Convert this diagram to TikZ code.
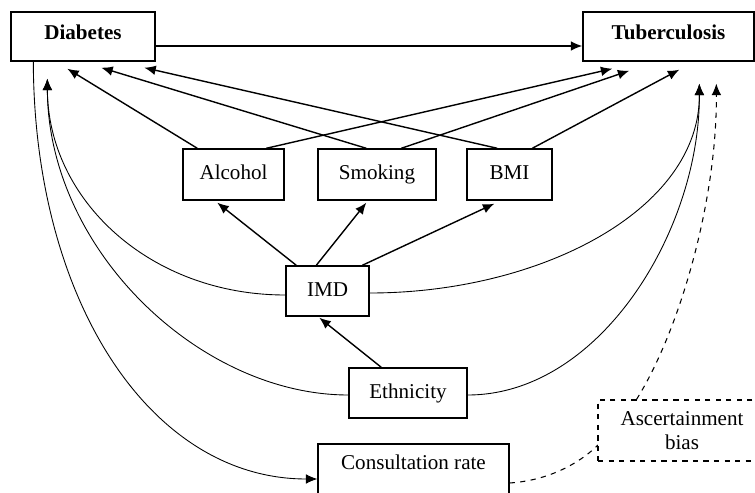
\documentclass[tikz,border=0pt]{standalone}
\usepackage{fontspec}
\setmainfont{Liberation Serif}
\usetikzlibrary{arrows.meta,calc}

\begin{document}
\begin{tikzpicture}[->,>={Latex[length=6.5pt,width=5.5pt]},x=0.02cm,y=-0.02cm,
                    line width=0.8pt]
  \tikzstyle{factor}=[draw,rectangle,inner sep=0pt,minimum height=1.02cm,
                      text height=8.5pt,text depth=2.5pt,
                      font=\fontsize{12}{14}\selectfont,fill=white]
  \tikzstyle{outcome}=[factor,minimum height=0.98cm,
                       font=\fontsize{12}{14}\selectfont\bfseries]
  \tikzstyle{path link}=[line width=0.5pt]
  \tikzstyle{bias link}=[line width=0.6pt,dashed]

  \clip (0,0) rectangle (755,493);

  \node[outcome] (diab) at (83,36.5)    [minimum width=2.88cm,text depth=5pt] {Diabetes};
  \node[outcome] (tb)   at (668.5,36.5) [minimum width=3.42cm,text depth=5pt] {Tuberculosis};
  \node[factor]  (alc)  at (233.5,174.5) [minimum width=2.02cm] {Alcohol};
  \node[factor]  (smk)  at (377,174.5)   [minimum width=2.36cm] {Smoking};
  \node[factor]  (bmi)  at (509.5,174.5) [minimum width=1.70cm] {BMI};
  \node[factor]  (imd)  at (327.5,291)   [minimum width=1.66cm,minimum height=1cm] {IMD};
  \node[factor]  (eth)  at (408,393)     [minimum width=2.36cm,minimum height=1cm] {Ethnicity};

  % exposure -> outcome
  \path ($(diab.east)+(0,9.5)$) edge ($(tb.west)+(0,9.5)$);

  % lifestyle factors
  \path ($(alc.north west)+(15,0)$) edge ($(diab.south west)+(57,7)$)
        ($(alc.north west)+(84,0)$) edge ($(tb.south west)+(30,7)$)
        ($(smk.north west)+(49,0)$) edge ($(diab.south west)+(91,6)$)
        ($(smk.north west)+(84,0)$) edge ($(tb.south west)+(47,9)$)
        ($(bmi.north west)+(31,0)$) edge ($(diab.south west)+(134,6)$)
        ($(bmi.north west)+(66,0)$) edge ($(tb.south west)+(97,8)$);

  % deprivation and ethnicity
  \path ($(imd.north west)+(11,0)$) edge ($(alc.south west)+(35,2)$)
        ($(imd.north west)+(31,0)$) edge ($(smk.south west)+(49,2)$)
        ($(imd.north west)+(77,0)$) edge ($(bmi.south west)+(28,3)$)
        ($(eth.north west)+(33,0)$) edge ($(imd.south west)+(34,1)$);

  \draw[path link] ($(imd.west)+(0,4)$) .. controls (150,295) and (48,200)
        .. ($(diab.south west)+(37,17)$);
  \draw[path link] ($(eth.west)+(0,2)$) .. controls (200,395) and (48,250)
        .. ($(diab.south west)+(37,17)$);
  \draw[path link] ($(imd.east)+(0,2)$) .. controls (540,293) and (700,210)
        .. ($(tb.south west)+(117,22)$);
  \draw[path link] ($(eth.east)+(0,2)$) .. controls (600,395) and (700,230)
        .. ($(tb.south west)+(117,22)$);

  % consultation rate and ascertainment
  \node[factor]  (cons) at (413.5,470)   [minimum width=3.82cm,minimum height=1.04cm,
                                          text depth=9pt] {Consultation rate};
  \draw[path link] ($(diab.south west)+(23,0)$) .. controls (34,300) and (150,479)
        .. ($(cons.west)+(0,9)$);
  \draw[bias link,-] ($(cons.east)+(0,13)$) .. controls (555,480) and (585,458)
        .. (598,445);
  \node[factor,dashed,line width=0.6pt] (asc) at (682,430.5)
        [minimum width=3.36cm,minimum height=1.22cm,align=center,
         text height={},text depth={}] {Ascertainment\\bias};
  \draw[bias link] ($(asc.north west)+(39,0)$) .. controls (680,330) and (717,200)
        .. ($(tb.south west)+(134,22)$);
\end{tikzpicture}
\end{document}
